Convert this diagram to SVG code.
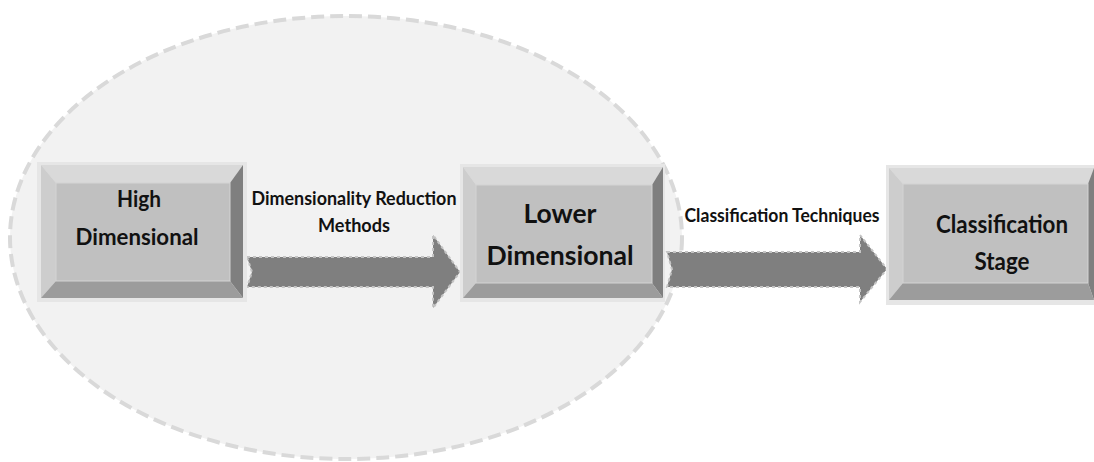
<svg xmlns="http://www.w3.org/2000/svg" width="1094" height="462" viewBox="0 0 1094 462">
<style>
.frame{fill:#e6e6e6}
.bt{fill:#d9d9d9}
.bl{fill:#cdcdcd}
.br{fill:#7f7f7f}
.bb{fill:#9c9c9c}
.face{fill:#c0c0c0;stroke:#d4d4d4;stroke-width:1}
.t{font-family:Lato,"Liberation Sans",sans-serif;font-weight:bold;fill:#111;text-anchor:middle}
.arrow{fill:#7f7f7f;stroke:#c4c4c4;stroke-width:2;stroke-dasharray:3 3}
</style>
<rect width="1094" height="462" fill="#ffffff"/>
<ellipse id="group-ellipse" cx="346" cy="237.5" rx="336" ry="221.5" fill="#f2f2f2" stroke="#d9d9d9" stroke-width="4" stroke-dasharray="13 6"/>
<g id="connectors">
<path class="arrow" d="M247,257 L433,257 L433,235 L460,272 L433,308 L433,287 L247,287 L252,272 Z"/>
<path class="arrow" d="M667,252 L860,252 L860,235 L887,269 L860,302 L860,287 L667,287 L672,269.5 Z"/>
<text class="t" x="354" y="205" font-size="18" textLength="205" lengthAdjust="spacingAndGlyphs">Dimensionality Reduction</text>
<text class="t" x="354" y="232" font-size="18" textLength="72" lengthAdjust="spacingAndGlyphs">Methods</text>
<text class="t" x="782" y="222" font-size="18" textLength="195" lengthAdjust="spacingAndGlyphs">Classification Techniques</text>
</g>
<g id="node-high">
<rect class="frame" x="37" y="162" width="210" height="140"/>
<polygon class="bt" points="41,165 243,165 230,183 56,183"/>
<polygon class="bl" points="41,165 56,183 56,281 41,298"/>
<polygon class="br" points="243,165 243,298 230,281 230,183"/>
<polygon class="bb" points="41,298 243,298 230,281 56,281"/>
<rect class="face" x="56" y="183" width="174" height="98"/>
<text class="t" x="139" y="207" font-size="22" textLength="44" lengthAdjust="spacingAndGlyphs">High</text>
<text class="t" x="137" y="245" font-size="22" textLength="123" lengthAdjust="spacingAndGlyphs">Dimensional</text>
</g>
<g id="node-lower">
<rect class="frame" x="460" y="164" width="205" height="138"/>
<polygon class="bt" points="463,167 663,167 652,185 476,185"/>
<polygon class="bl" points="463,167 476,185 476,283 463,298"/>
<polygon class="br" points="663,167 663,298 652,283 652,185"/>
<polygon class="bb" points="463,298 663,298 652,283 476,283"/>
<rect class="face" x="476" y="185" width="176" height="98"/>
<text class="t" x="560" y="223" font-size="27" textLength="73" lengthAdjust="spacingAndGlyphs">Lower</text>
<text class="t" x="560" y="265" font-size="27" textLength="147" lengthAdjust="spacingAndGlyphs">Dimensional</text>
</g>
<g id="node-classification">
<rect class="frame" x="886" y="165" width="212" height="140"/>
<polygon class="bt" points="889,168 1094,168 1088,184 903,184"/>
<polygon class="bl" points="889,168 903,184 903,283 889,300"/>
<polygon class="br" points="1094,168 1094,300 1088,283 1088,184"/>
<polygon class="bb" points="889,300 1094,300 1088,283 903,283"/>
<rect class="face" x="903" y="184" width="185" height="99"/>
<text class="t" x="1002" y="233" font-size="24" textLength="132" lengthAdjust="spacingAndGlyphs">Classification</text>
<text class="t" x="1002" y="270" font-size="24" textLength="55" lengthAdjust="spacingAndGlyphs">Stage</text>
</g>
</svg>
